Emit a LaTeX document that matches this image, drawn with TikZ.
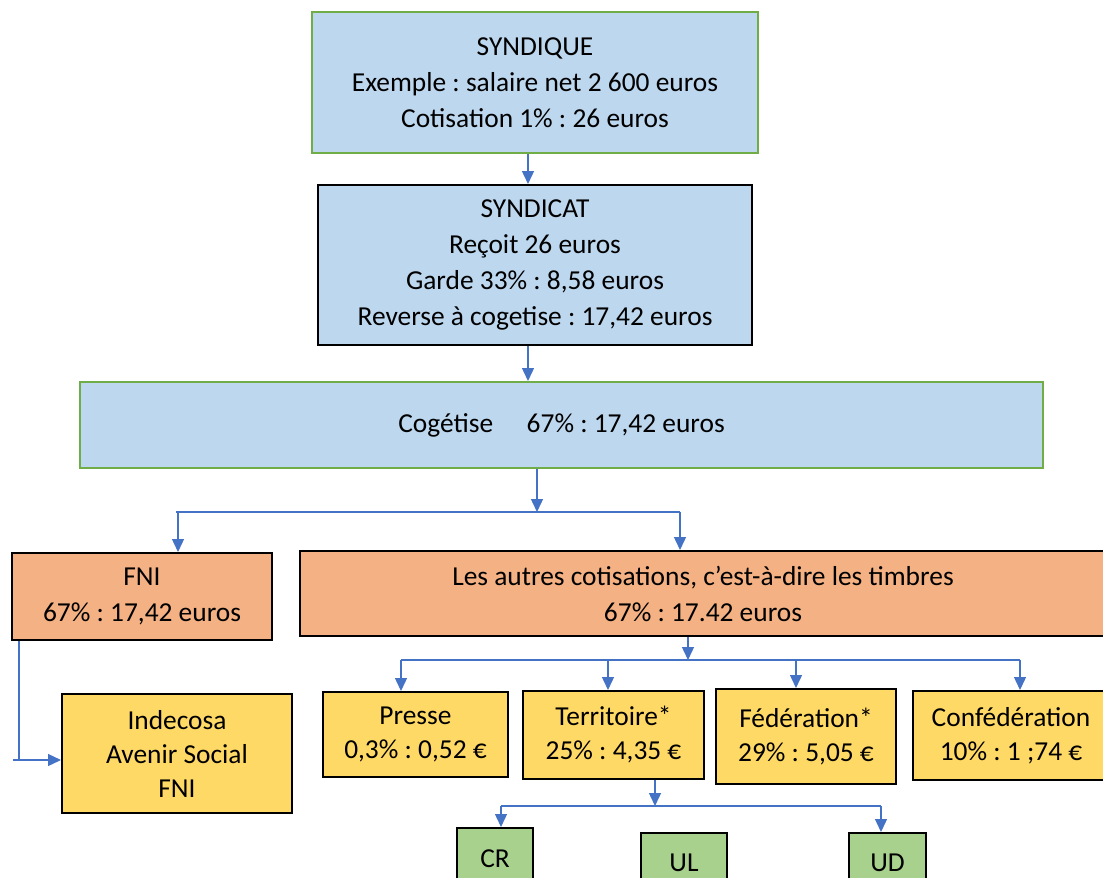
\documentclass[tikz,border=0pt]{standalone}
\usepackage{fontspec}
\setmainfont{Carlito}
\usetikzlibrary{shapes,arrows,arrows.meta,positioning,calc}

\definecolor{bleuclair}{HTML}{BDD7EE}
\definecolor{vertbord}{HTML}{70AD47}
\definecolor{orange}{HTML}{F4B183}
\definecolor{jaune}{HTML}{FFD966}
\definecolor{vertclair}{HTML}{A9D18E}
\definecolor{fleche}{HTML}{4472C4}

\frenchspacing

\begin{document}
\begin{tikzpicture}[x=0.5pt, y=-0.5pt, font=\fontsize{13.7}{18}\selectfont]
\tikzstyle{box} = [rectangle, align=center, inner sep=0pt]
\tikzstyle{bleu} = [box, draw=vertbord, line width=1pt, fill=bleuclair]
\tikzstyle{bleunoir} = [box, draw=black, line width=1pt, fill=bleuclair]
\tikzstyle{orangebox} = [box, draw=black, line width=1pt, fill=orange]
\tikzstyle{jaunebox} = [box, draw=black, line width=1pt, fill=jaune, font=\fontsize{13.7}{17}\selectfont]
\tikzstyle{vertbox} = [box, draw=black, line width=1pt, fill=vertclair]
\tikzstyle{line} = [draw=fleche, line width=0.7pt, -{Triangle[width=6pt,length=6.5pt]}]
\tikzstyle{wire} = [draw=fleche, line width=0.7pt]

\useasboundingbox (0,0) rectangle (1103,878);

% haut
\node [bleu, minimum width=223pt, minimum height=70.5pt] (syndique) at (535,82.5)
  {SYNDIQUE\\Exemple : salaire net 2 600 euros\\Cotisation 1\% : 26 euros};
\node [bleunoir, minimum width=217pt, minimum height=80pt] (syndicat) at (535,265)
  {SYNDICAT\\Reçoit 26 euros\\Garde 33\% : 8,58 euros\\Reverse à cogetise : 17,42 euros};
\node [bleu, minimum width=481.5pt, minimum height=43pt] (cogetise) at (561.5,425)
  {Cogétise\hspace{1em} 67\% : 17,42 euros};

% second niveau
\node [orangebox, minimum width=130pt, minimum height=43.5pt] (fni) at (142,596.5)
  {FNI\\67\% : 17,42 euros};
\node [orangebox, minimum width=403pt, minimum height=42.5pt] (autres) at (703,593.5)
  {Les autres cotisations, c’est-à-dire les timbres\\67\% : 17.42 euros};
\node [jaunebox, minimum width=115pt, minimum height=59.5pt] (indecosa) at (177,753.5)
  {\rule{0pt}{3pt}Indecosa\\Avenir Social\\FNI};

% timbres
\node [jaunebox, minimum width=92.5pt, minimum height=42.5pt] (presse) at (415.5,734.5)
  {Presse\\0,3\% : 0,52 €};
\node [jaunebox, minimum width=90.5pt, minimum height=44pt] (territoire) at (613.5,735)
  {Territoire*\\25\% : 4,35 €};
\node [jaunebox, minimum width=90pt, minimum height=47.5pt] (federation) at (806,736.5)
  {Fédération*\\29\% : 5,05 €};
\node [jaunebox, minimum width=98pt, minimum height=44.5pt] (confederation) at (1011,735.5)
  {Confédération\\10\% : 1 ;74 €};

% territoire
\node [vertbox, minimum width=38pt, minimum height=31pt] (cr) at (495,859) {CR};
\node [vertbox, minimum width=43pt, minimum height=30pt] (ul) at (684,863) {UL};
\node [vertbox, minimum width=38.5pt, minimum height=30pt] (ud) at (887.5,863) {UD};

\coordinate (hubA) at (537,512);
\coordinate (hubAl) at (176,512);
\coordinate (hubAr) at (680,512);
\coordinate (hubB) at (688,660);
\coordinate (hubBl) at (401,660);
\coordinate (hubBr) at (1020,660);
\coordinate (hubC) at (655,806);
\coordinate (hubCl) at (501,806);
\coordinate (hubCr) at (881,806);
\coordinate (coude) at (19,760);
\coordinate (stub) at (13,760);

\path [line] ([xshift=-3.5pt]syndique.south) -- ([xshift=-3.5pt]syndicat.north);
\path [line] ([xshift=-3.5pt]syndicat.south) -- ([xshift=-3.5pt]syndicat.south |- cogetise.north);

\path [line] (cogetise.south -| hubA) -- (hubA);
\path [wire] (hubAl) -- (hubAr);
\path [line] ([xshift=1pt]hubAl) -- ([xshift=1pt]hubAl |- fni.north);
\path [line] (hubAr) -- (hubAr |- autres.north);

\path [wire] (fni.south -| coude) -- (coude);
\path [line] (stub) -- (stub -| indecosa.west);

\path [line] (autres.south -| hubB) -- (hubB);
\path [wire] (hubBl) -- (hubBr);
\path [line] (hubBl) -- (hubBl |- presse.north);
\path [line] (hubBl -| 608,0) -- (608,0 |- territoire.north);
\path [line] (hubBl -| 796,0) -- (796,0 |- federation.north);
\path [line] (hubBr) -- (hubBr |- confederation.north);

\path [line] (territoire.south -| hubC) -- (hubC);
\path [wire] (hubCl) -- (hubCr);
\path [line] (hubCl) -- (hubCl |- cr.north);
\path [line] (hubCr) -- (hubCr |- ud.north);
\end{tikzpicture}
\end{document}
